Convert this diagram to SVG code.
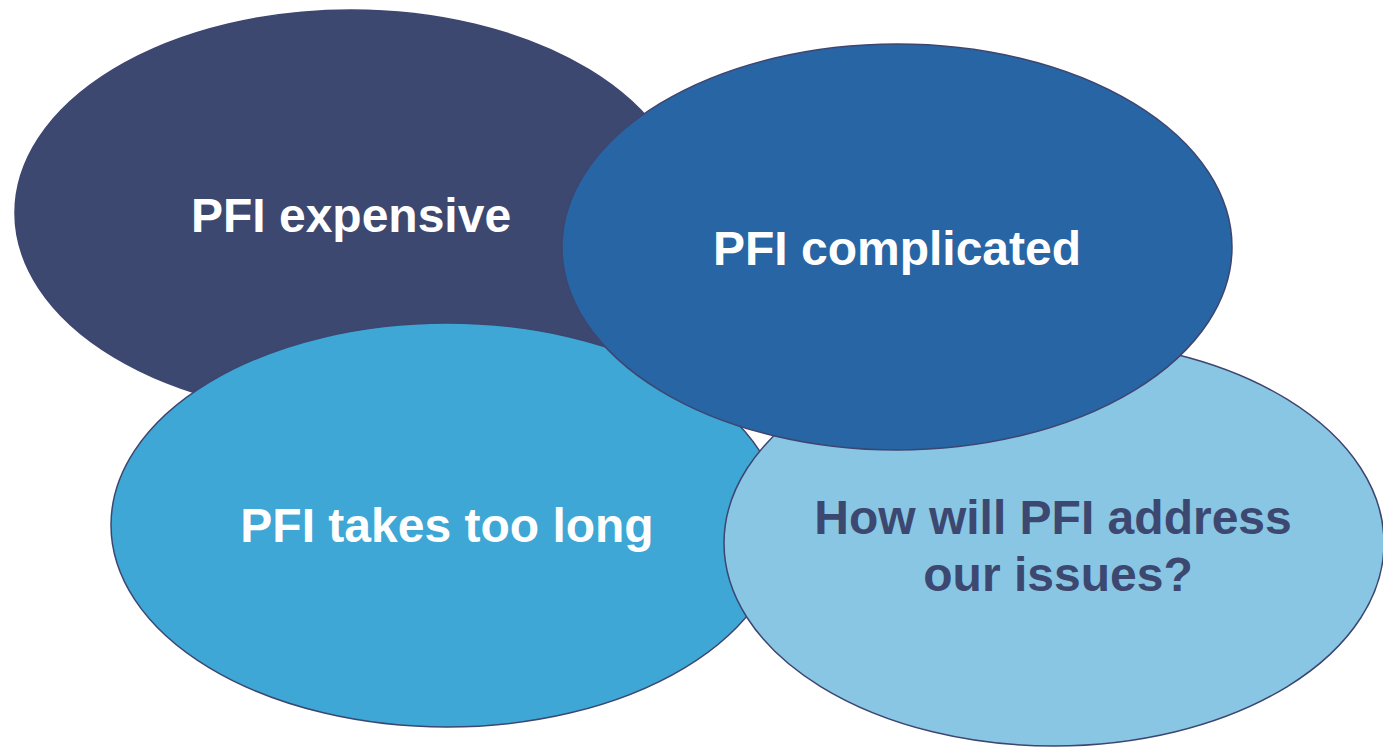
<svg xmlns="http://www.w3.org/2000/svg" width="1383" height="747" viewBox="0 0 1383 747">
  <style>
    .bubble { stroke: #3d4670; stroke-width: 1.5; }
    .label { font-family: "Liberation Sans", Arial, sans-serif; font-weight: bold; font-size: 48px; text-anchor: middle; }
    .light { fill: #ffffff; }
    .dark { fill: #3c4870; }
  </style>
  <rect width="1383" height="747" fill="#ffffff"/>

  <!-- bubbles are drawn back to front -->
  <g id="node-expensive">
    <ellipse class="bubble" cx="351" cy="213" rx="336" ry="203" fill="#3c4870"/>
    <text class="label light" x="351" y="232">PFI expensive</text>
  </g>

  <g id="node-too-long">
    <ellipse class="bubble" cx="447" cy="525" rx="336" ry="202" fill="#3ea7d5"/>
    <text class="label light" x="447" y="542">PFI takes too long</text>
  </g>

  <g id="node-issues">
    <ellipse class="bubble" cx="1054" cy="543" rx="330" ry="203" fill="#89c6e4"/>
    <text class="label dark" x="1053" y="534">How will PFI address</text>
    <text class="label dark" x="1058" y="591">our issues?</text>
  </g>

  <g id="node-complicated">
    <ellipse class="bubble" cx="897" cy="247" rx="335" ry="203" fill="#2765a4"/>
    <text class="label light" x="897" y="265">PFI complicated</text>
  </g>

  <g id="connectors"></g>
</svg>
